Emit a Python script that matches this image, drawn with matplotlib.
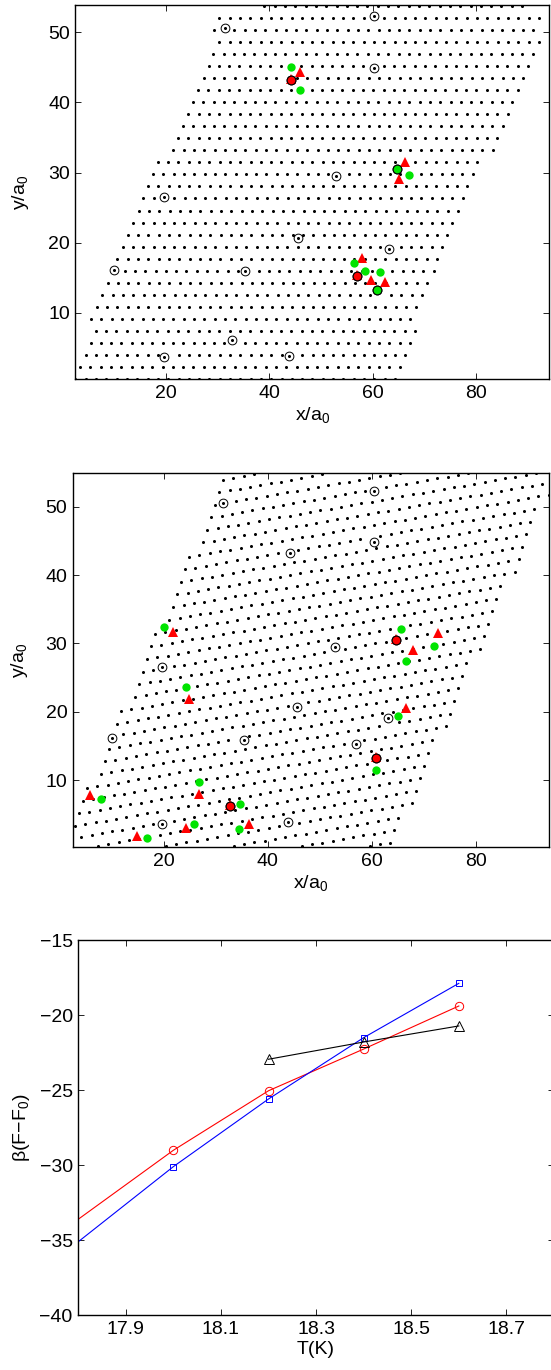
import numpy as np
import matplotlib
matplotlib.use('Agg')
import matplotlib.pyplot as plt

plt.rcParams['font.family'] = ['Liberation Sans', 'DejaVu Sans']
plt.rcParams['mathtext.fontset'] = 'custom'
plt.rcParams['mathtext.rm'] = 'Liberation Sans'
plt.rcParams['mathtext.it'] = 'Liberation Sans:italic'
plt.rcParams['mathtext.bf'] = 'Liberation Sans:bold'
plt.rcParams['axes.unicode_minus'] = True

# ---------------- data: panel 1 vortex lattice (rows) ----------
row_y_first = 0.5
row_y_step = 1.72
row_dot_step = 1.99
row_start_x = [2.6, 3.5, 4.6, 5.5, 6.5, 5.6, 6.7, 7.8, 8.8, 10.1, 10.7, 11.7,
               12.7, 13.7, 14.8, 15.7, 16.6, 17.6, 18.5, 21.5, 22.4, 23.4,
               24.4, 25.3, 26.3, 27.4, 28.3, 29.2, 30.4, 29.3, 30.4, 39.1]
row_count = [32] * 31 + [26]

# ---------------- data: panel 2 vortex lattice (rotated) ----------
lat2_spacing = 1.99
lat2_angle_deg = 7.5
lat2_origin = [64.65, 30.52]
cell_left = 0.2
cell_width = 64.0
cell_shear = 0.577
lat2_ylim = [0.15, 54.98]

# ---------------- pinning sites (same in both panels) ----------
pin_x = [60.35, 31.4, 60.35, 44.2, 52.95, 64.65, 19.7, 45.6, 63.2, 10.05,
         35.4, 56.9, 60.85, 32.75, 43.85, 19.65]
pin_y = [52.35, 50.57, 44.85, 43.25, 29.53, 30.52, 26.57, 20.65, 19.03, 16.12,
         15.92, 15.28, 13.18, 6.15, 3.85, 3.63]

# panel 1 markers
tri1_x = [45.9, 44.2, 66.2, 65.1, 58.0, 59.7, 62.3, 56.9]
tri1_y = [44.4, 43.4, 31.57, 29.14, 17.86, 14.71, 14.37, 15.45]
grn1_x = [44.2, 46.0, 67.0, 56.3, 58.5, 61.4]
grn1_y = [45.09, 41.76, 29.6, 17.09, 15.94, 15.8]
grn1_pin_x = [64.65, 60.85]
grn1_pin_y = [30.52, 13.18]
red1_pin_x = [44.2, 56.9]
red1_pin_y = [43.25, 15.28]

# panel 2 markers
tri2_x = [21.8, 24.87, 5.8, 26.75, 14.9, 24.4, 36.4, 72.7, 68.0, 66.6, 64.65, 60.85, 32.75]
tri2_y = [31.7, 21.9, 7.8, 7.9, 1.8, 3.0, 3.6, 31.46, 29.0, 20.58, 30.7, 13.4, 6.35]
grn2_x = [20.06, 24.3, 7.9, 26.9, 16.8, 25.9, 34.6, 34.46, 65.6, 66.55, 71.96, 65.1, 60.9]
grn2_y = [32.44, 23.57, 7.18, 9.66, 1.46, 3.6, 6.53, 2.87, 32.1, 27.37, 29.6, 19.37, 11.4]
red2_pin_x = [64.65, 60.85, 32.75]
red2_pin_y = [30.52, 13.18, 6.15]

# ---------------- panel 3 free energy ----------
T_line = [17.8, 18.0, 18.2, 18.4, 18.6]
F_red = [-33.6, -29.0, -25.03, -22.25, -19.38]
F_blue = [-35.1, -30.09, -25.58, -21.49, -17.87]
T_black = [18.2, 18.4, 18.6]
F_black = [-22.93, -21.78, -20.71]

# ---------------- build lattices ----------
px = np.array(pin_x); py = np.array(pin_y)

def away_from_pins(x, y, r=1.0):
    d = np.sqrt((x[:, None] - px[None, :])**2 + (y[:, None] - py[None, :])**2)
    return d.min(axis=1) > r

x1, y1 = [], []
for k, (s, n) in enumerate(zip(row_start_x, row_count)):
    for i in range(n):
        x1.append(s + i * row_dot_step)
        y1.append(row_y_first + k * row_y_step)
x1 = np.array(x1); y1 = np.array(y1)
m = away_from_pins(x1, y1)
x1, y1 = x1[m], y1[m]

th = np.deg2rad(lat2_angle_deg)
a1 = lat2_spacing * np.array([np.cos(th), np.sin(th)])
a2 = lat2_spacing * np.array([np.cos(th + np.pi / 3), np.sin(th + np.pi / 3)])
ii, jj = np.meshgrid(np.arange(-80, 81), np.arange(-80, 81))
x2 = lat2_origin[0] + ii.ravel() * a1[0] + jj.ravel() * a2[0]
y2 = lat2_origin[1] + ii.ravel() * a1[1] + jj.ravel() * a2[1]
u = x2 - cell_shear * y2
m = (u >= cell_left) & (u < cell_left + cell_width) & (y2 >= lat2_ylim[0]) & (y2 <= lat2_ylim[1])
x2, y2 = x2[m], y2[m]
m = away_from_pins(x2, y2)
x2, y2 = x2[m], y2[m]

# ---------------- figure ----------
fig = plt.figure(figsize=(5.51, 13.70), dpi=100)
FS = 14

def style(ax):
    ax.tick_params(direction='in', top=True, right=True, length=4, width=0.6,
                   labelsize=FS, pad=4)
    for sp in ax.spines.values():
        sp.set_linewidth(1.0)

def lattice_panel(ax, xs, ys, ylim):
    ax.plot(xs, ys, 'o', ms=2.2, mew=0, color='black', zorder=2)
    ax.plot(pin_x, pin_y, 'o', ms=2.2, mew=0, color='black', zorder=2)
    ax.plot(pin_x, pin_y, 'o', ms=6.3, mfc='none', mec='black', mew=0.7, zorder=3)
    ax.set_xlim(2.6, 94.05)
    ax.set_ylim(*ylim)
    ax.set_xticks([20, 40, 60, 80])
    ax.set_yticks([10, 20, 30, 40, 50])
    ax.set_xlabel('x/a$_0$', fontsize=FS, labelpad=2)
    ax.set_ylabel('y/a$_0$', fontsize=FS)
    style(ax)

ax1 = fig.add_axes([0.1370, 0.72314, 0.8593, 0.27343])
lattice_panel(ax1, x1, y1, (0.5, 53.94))
ax1.plot(tri1_x, tri1_y, '^', ms=7.5, color='red', mew=0, zorder=4)
ax1.plot(grn1_x, grn1_y, 'o', ms=6, color='#00e400', mew=0, zorder=5)
ax1.plot(grn1_pin_x, grn1_pin_y, 'o', ms=6.3, mfc='#00e400', mec='black', mew=0.8, zorder=6)
ax1.plot(red1_pin_x, red1_pin_y, 'o', ms=6.3, mfc='red', mec='black', mew=0.8, zorder=6)
ax1.yaxis.set_label_coords(-0.094, 0.5)

ax2 = fig.add_axes([0.1325, 0.38153, 0.8639, 0.27343])
lattice_panel(ax2, x2, y2, (0.15, 54.98))
ax2.plot(tri2_x, tri2_y, '^', ms=7.5, color='red', mew=0, zorder=4)
ax2.plot(grn2_x, grn2_y, 'o', ms=6, color='#00e400', mew=0, zorder=5)
ax2.plot(red2_pin_x, red2_pin_y, 'o', ms=6.3, mfc='red', mec='black', mew=0.8, zorder=6)
ax2.yaxis.set_label_coords(-0.09, 0.5)

ax3 = fig.add_axes([0.1419, 0.03993, 0.8635, 0.27372])
ax3.plot(T_line, F_red, '-', color='red', lw=0.8, marker='o', ms=6, mfc='none',
         mec='red', mew=0.7, markevery=[1, 2, 3, 4])
ax3.plot(T_line, F_blue, '-', color='blue', lw=0.8, marker='s', ms=5, mfc='none',
         mec='blue', mew=0.7, markevery=[1, 2, 3, 4])
ax3.plot(T_black, F_black, '-', color='black', lw=0.8, marker='^', ms=7, mfc='none',
         mec='black', mew=0.7)
ax3.set_xlim(17.8, 18.8)
ax3.set_ylim(-40, -15)
ax3.set_xticks([17.9, 18.1, 18.3, 18.5, 18.7])
ax3.set_yticks([-40, -35, -30, -25, -20, -15])
ax3.set_xlabel('T(K)', fontsize=FS, labelpad=2)
ax3.set_ylabel('\u03b2(F\u2212F$_0$)', fontsize=FS)
style(ax3)
ax3.yaxis.set_label_coords(-0.097, 0.5)

fig.savefig('out.png', dpi=100)
